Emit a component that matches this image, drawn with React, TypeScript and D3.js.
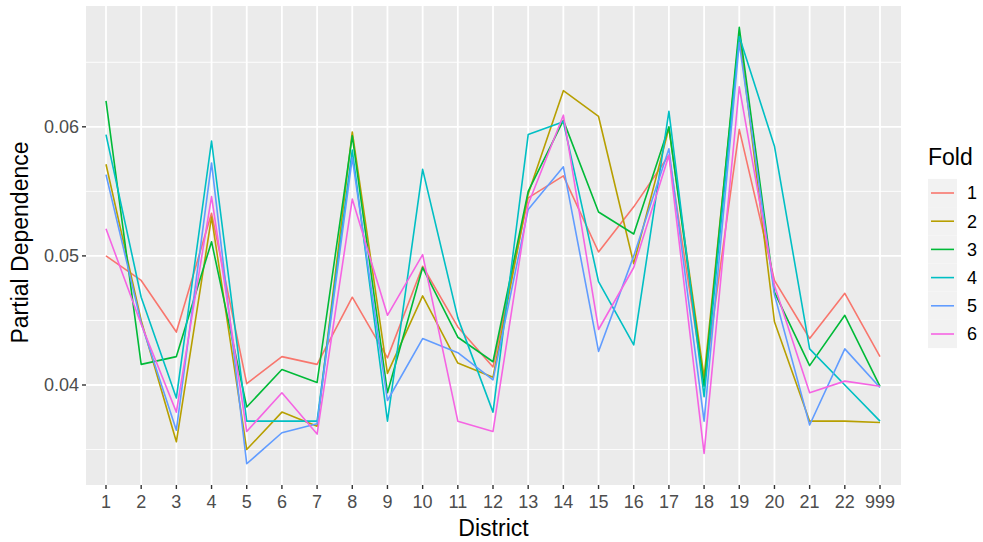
import React from 'react';
import * as d3 from 'd3';

const districts = ['1', '2', '3', '4', '5', '6', '7', '8', '9', '10', '11', '12', '13', '14', '15', '16', '17', '18', '19', '20', '21', '22', '999'];
const folds = ['1', '2', '3', '4', '5', '6'];
const foldColors = ['#F8766D', '#B79F00', '#00BA38', '#00BFC4', '#619CFF', '#F564E3'];

const fold1 = [0.0500, 0.0481, 0.0441, 0.0533, 0.0401, 0.0422, 0.0416, 0.0468, 0.0421, 0.0492, 0.0445, 0.0414, 0.0545, 0.0562, 0.0503, 0.0538, 0.0578, 0.0400, 0.0598, 0.0481, 0.0436, 0.0471, 0.0422];
const fold2 = [0.0571, 0.0450, 0.0356, 0.0530, 0.0350, 0.0379, 0.0368, 0.0596, 0.0409, 0.0469, 0.0417, 0.0406, 0.0548, 0.0628, 0.0608, 0.0494, 0.0599, 0.0406, 0.0672, 0.0449, 0.0372, 0.0372, 0.0371];
const fold3 = [0.0620, 0.0416, 0.0422, 0.0511, 0.0383, 0.0412, 0.0402, 0.0593, 0.0394, 0.0491, 0.0437, 0.0418, 0.0550, 0.0605, 0.0534, 0.0517, 0.0600, 0.0399, 0.0677, 0.0472, 0.0415, 0.0454, 0.0399];
const fold4 = [0.0594, 0.0468, 0.0390, 0.0589, 0.0372, 0.0372, 0.0372, 0.0582, 0.0372, 0.0567, 0.0452, 0.0379, 0.0594, 0.0604, 0.0480, 0.0431, 0.0612, 0.0391, 0.0670, 0.0585, 0.0428, 0.0400, 0.0372];
const fold5 = [0.0563, 0.0448, 0.0365, 0.0572, 0.0339, 0.0363, 0.0370, 0.0576, 0.0388, 0.0436, 0.0425, 0.0404, 0.0536, 0.0569, 0.0426, 0.0500, 0.0583, 0.0372, 0.0665, 0.0470, 0.0369, 0.0428, 0.0398];
const fold6 = [0.0521, 0.0447, 0.0379, 0.0546, 0.0364, 0.0394, 0.0362, 0.0544, 0.0454, 0.0501, 0.0372, 0.0364, 0.0540, 0.0609, 0.0443, 0.0491, 0.0578, 0.0347, 0.0631, 0.0477, 0.0394, 0.0403, 0.0399];
const series = [fold1, fold2, fold3, fold4, fold5, fold6];

const yTicks = [0.04, 0.05, 0.06];
const yMinor = [0.035, 0.045, 0.055, 0.065];

const width = 983;
const height = 542;
const panel = { left: 86, right: 901, top: 6, bottom: 485 };
const font = '"Liberation Sans", Arial, Helvetica, sans-serif';

const App = () => {
  const x = d3.scalePoint<string>().domain(districts).range([106, 880]);
  const y = d3.scaleLinear().domain([0.04, 0.06]).range([385, 126.8]);

  const line = d3.line<number>()
    .x((_, i) => x(districts[i]) as number)
    .y(d => y(d));

  return (
    <svg width={width} height={height} style={{ position: 'absolute', left: 0, top: 0 }} fontFamily={font}>
      <rect x={0} y={0} width={width} height={height} fill="#ffffff" />
      <rect x={panel.left} y={panel.top} width={panel.right - panel.left} height={panel.bottom - panel.top} fill="#EBEBEB" />

      {/* grid */}
      {yMinor.map(v => (
        <line key={'mn' + v} x1={panel.left} x2={panel.right} y1={y(v)} y2={y(v)} stroke="#fff" strokeWidth={0.9} />
      ))}
      {yTicks.map(v => (
        <line key={'mj' + v} x1={panel.left} x2={panel.right} y1={y(v)} y2={y(v)} stroke="#fff" strokeWidth={1.8} />
      ))}
      {districts.map(d => (
        <line key={'vx' + d} x1={x(d)} x2={x(d)} y1={panel.top} y2={panel.bottom} stroke="#fff" strokeWidth={1.8} />
      ))}

      {/* lines */}
      {series.map((s, i) => (
        <path key={'s' + i} d={line(s) || ''} fill="none" stroke={foldColors[i]} strokeWidth={1.6} strokeLinejoin="round" />
      ))}

      {/* y axis */}
      {yTicks.map(v => (
        <g key={'yt' + v}>
          <line x1={panel.left - 4} x2={panel.left} y1={y(v)} y2={y(v)} stroke="#333" strokeWidth={1.4} />
          <text x={panel.left - 7} y={y(v)} dy="0.35em" textAnchor="end" fontSize={18} fill="#4D4D4D">{d3.format('.2f')(v)}</text>
        </g>
      ))}

      {/* x axis */}
      {districts.map(d => (
        <g key={'xt' + d}>
          <line x1={x(d)} x2={x(d)} y1={panel.bottom} y2={panel.bottom + 4} stroke="#333" strokeWidth={1.4} />
          <text x={x(d)} y={508} textAnchor="middle" fontSize={18} fill="#4D4D4D">{d}</text>
        </g>
      ))}

      <text x={(panel.left + panel.right) / 2} y={536} textAnchor="middle" fontSize={23} fill="#000">District</text>
      <text transform={`translate(28,${(panel.top + panel.bottom) / 2 - 3}) rotate(-90)`} textAnchor="middle" fontSize={23} fill="#000">Partial Dependence</text>

      {/* legend */}
      <text x={928} y={165} fontSize={23} fill="#000">Fold</text>
      {folds.map((f, i) => {
        const cy = 193 + i * 28.2;
        return (
          <g key={'lg' + f}>
            <rect x={928} y={cy - 14.1} width={29} height={28.2} fill="#F2F2F2" />
            <line x1={931} x2={954} y1={cy} y2={cy} stroke={foldColors[i]} strokeWidth={1.6} />
            <text x={967} y={cy} dy="0.35em" fontSize={18} fill="#000">{f}</text>
          </g>
        );
      })}
    </svg>
  );
};

export default App;
